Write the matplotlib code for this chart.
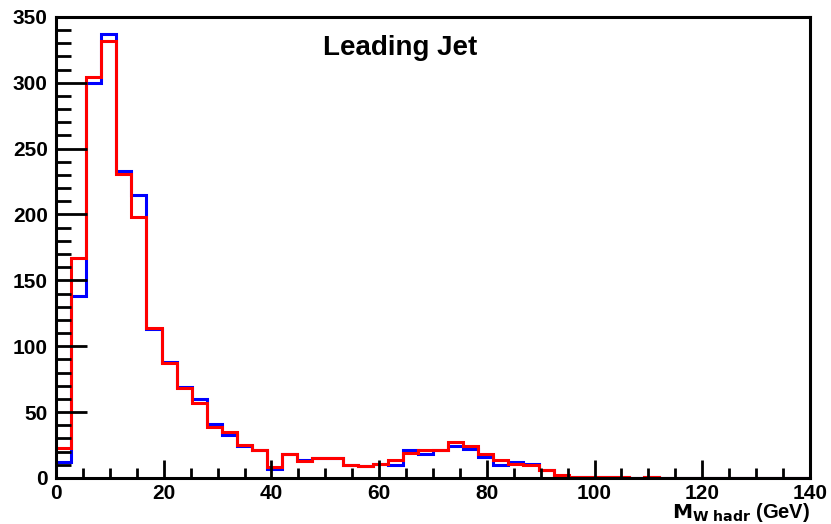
import numpy as np
import matplotlib.pyplot as plt
from matplotlib.ticker import MultipleLocator

# -------------- Data (50 bins of 2.8 GeV, 0-140) --------------
bin_edges = np.linspace(0, 140, 51)

blue_counts = [12, 138, 300, 337, 233, 215, 113, 88, 69, 60,
               41, 33, 24, 21, 7, 18, 14, 15, 15, 10,
               9, 11, 10, 21, 18, 21, 24, 22, 16, 10,
               12, 11, 6, 1, 1, 1, 1, 1, 0, 1,
               0, 0, 0, 0, 0, 0, 0, 0, 0, 0]
red_counts = [23, 167, 304, 332, 231, 198, 114, 87, 68, 57,
              39, 35, 25, 21, 8, 18, 13, 15, 15, 10,
              9, 11, 14, 19, 21, 21, 27, 24, 18, 14,
              11, 10, 6, 2, 1, 1, 1, 1, 0, 1,
              0, 0, 0, 0, 0, 0, 0, 0, 0, 0]

plt.rcParams['font.family'] = ['Liberation Sans', 'DejaVu Sans']
plt.rcParams['font.weight'] = 'bold'

fig = plt.figure(figsize=(8.31, 5.24), dpi=100)
ax = fig.add_axes([0.0674, 0.0878, 0.9073, 0.880])

ax.stairs(blue_counts, bin_edges, baseline=None, color='#0000ff', linewidth=2.2)
ax.stairs(red_counts, bin_edges, baseline=None, color='#ff0000', linewidth=2.2)

ax.set_xlim(0, 140)
ax.set_ylim(0, 350)

# -------------- ROOT-like frame and ticks --------------
for s in ax.spines.values():
    s.set_linewidth(2.2)
ax.xaxis.set_major_locator(MultipleLocator(20))
ax.xaxis.set_minor_locator(MultipleLocator(5))
ax.yaxis.set_major_locator(MultipleLocator(50))
ax.yaxis.set_minor_locator(MultipleLocator(10))
ax.tick_params(axis='both', which='both', direction='in', top=False, right=False,
               labelsize=15, width=2)
ax.tick_params(axis='y', which='major', length=22, pad=6)
ax.tick_params(axis='y', which='minor', length=11)
ax.tick_params(axis='x', which='major', length=13, pad=4)
ax.tick_params(axis='x', which='minor', length=7)
for lab in ax.get_xticklabels() + ax.get_yticklabels():
    lab.set_fontweight('bold')

ax.text(0.457, 0.933, 'Leading Jet', transform=ax.transAxes, ha='center', va='center',
        fontsize=20, fontweight='bold')
ax.text(1.0, -0.086, r'$\mathbf{M_{W\ hadr}}$ (GeV)', transform=ax.transAxes,
        ha='right', va='baseline', fontsize=14.5, fontweight='bold')

plt.savefig('out.png', dpi=100)
